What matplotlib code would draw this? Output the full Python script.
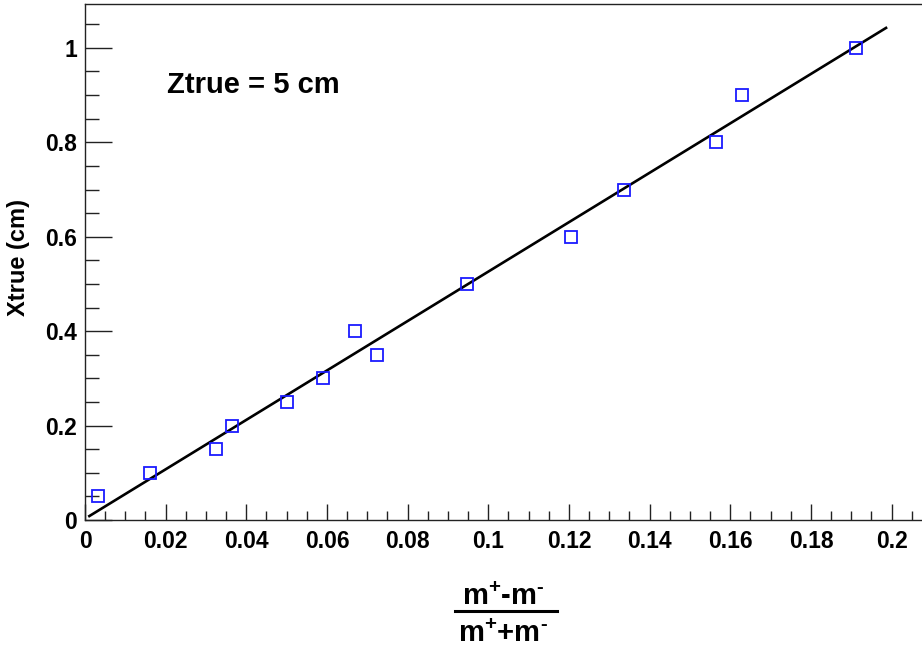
import matplotlib
matplotlib.use("Agg")
import matplotlib.pyplot as plt
from matplotlib.ticker import MultipleLocator
from matplotlib.lines import Line2D

plt.rcParams['font.family'] = ['Liberation Sans', 'DejaVu Sans']
plt.rcParams['mathtext.fontset'] = 'custom'
plt.rcParams['mathtext.rm'] = 'Liberation Sans'
plt.rcParams['mathtext.bf'] = 'Liberation Sans:bold'

# Measured asymmetry (m+ - m-)/(m+ + m-) versus true x position
asym = [0.0031, 0.0160, 0.0326, 0.0365, 0.0500, 0.0589, 0.0669,
        0.0725, 0.0947, 0.1205, 0.1336, 0.1565, 0.1628, 0.1911]
xtrue = [0.05, 0.10, 0.15, 0.20, 0.25, 0.30, 0.40,
         0.35, 0.50, 0.60, 0.70, 0.80, 0.90, 1.00]

# Linear fit result and its range
fit_slope = 5.234
fit_intercept = 0.0027
fit_range = [0.0008, 0.1989]

W, H = 922, 649
fig = plt.figure(figsize=(W / 100, H / 100), dpi=100)

x0, x1 = 0.0, 0.21
y0, y1 = 0.0, 1.094
left_px, bottom_px = 85, 520
px_per_x = 4033.0
top_px = 3.5
ax = fig.add_axes([left_px / W, (H - bottom_px) / H,
                   (x1 - x0) * px_per_x / W, (bottom_px - top_px) / H])

fx = fit_range
fy = [fit_slope * v + fit_intercept for v in fx]
ax.plot(fx, fy, color='black', lw=1.9, solid_capstyle='butt', zorder=2)
ax.plot(asym, xtrue, ls='none', marker='s', markersize=9.2,
        markerfacecolor='none', markeredgecolor='#1a1aff',
        markeredgewidth=1.3, zorder=3)

ax.set_xlim(x0, x1)
ax.set_ylim(y0, y1)

ax.xaxis.set_major_locator(MultipleLocator(0.02))
ax.xaxis.set_minor_locator(MultipleLocator(0.005))
ax.yaxis.set_major_locator(MultipleLocator(0.2))
ax.yaxis.set_minor_locator(MultipleLocator(0.05))

def fmt(v, pos=None):
    s = f"{v:.2f}".rstrip('0').rstrip('.')
    return s if s != '-0' else '0'

ax.xaxis.set_major_formatter(plt.FuncFormatter(fmt))
ax.yaxis.set_major_formatter(plt.FuncFormatter(fmt))

ax.tick_params(axis='both', which='both', direction='in', width=1.0,
               color='#222222', top=False, right=False)
ax.tick_params(axis='x', which='major', length=11.5, pad=7)
ax.tick_params(axis='x', which='minor', length=6.3)
ax.tick_params(axis='y', which='major', length=19.2, pad=5.5)
ax.tick_params(axis='y', which='minor', length=10)
for lab in ax.get_xticklabels() + ax.get_yticklabels():
    lab.set_fontsize(16.5)
    lab.set_fontweight('bold')

for s in ax.spines.values():
    s.set_linewidth(1.0)
    s.set_color('#222222')

# y axis title
fig.text(18.3 / W, 1 - 258 / H, 'Xtrue (cm)', rotation=90, ha='center',
         va='center', fontsize=17, fontweight='bold')

# x axis title drawn as a fraction
cx = 503 / W
hy = '\N{HYPHEN}'
fig.text(cx, 1 - 605 / H, r'$\mathbf{m^{+}}$-$\mathbf{m^{' + hy + '}}$',
         ha='center', va='baseline', fontsize=21, fontweight='bold')
fig.text(cx, 1 - 641.7 / H, r'$\mathbf{m^{+}}$+$\mathbf{m^{' + hy + '}}$',
         ha='center', va='baseline', fontsize=21, fontweight='bold')
fig.add_artist(Line2D([455 / W, 557 / W], [1 - 610.7 / H, 1 - 610.7 / H],
                      transform=fig.transFigure, color='black', lw=2.2))

# annotation
fig.text(166.7 / W, 1 - 93.3 / H, 'Ztrue = 5 cm', ha='left', va='baseline',
         fontsize=21, fontweight='bold')

fig.savefig('out.png', dpi=100)
